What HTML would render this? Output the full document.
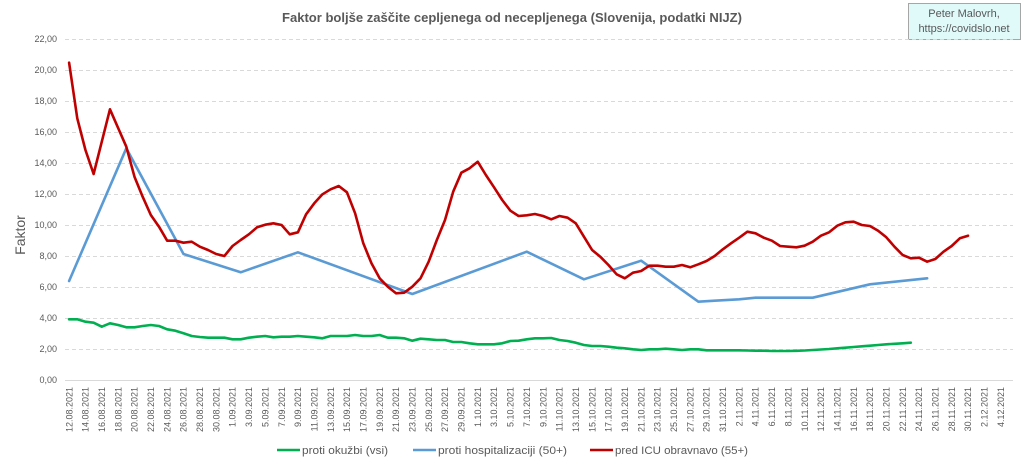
<!DOCTYPE html>
<html>
<head>
<meta charset="utf-8">
<style>
html,body{margin:0;padding:0;background:#fff;}
svg{display:block;}
text{font-family:"Liberation Sans",sans-serif;fill:#595959;}
</style>
</head>
<body>
<svg width="1024" height="466" viewBox="0 0 1024 466" xmlns="http://www.w3.org/2000/svg">
<rect width="1024" height="466" fill="#fff"/>
<!-- title -->
<text x="512" y="22" text-anchor="middle" font-size="13" font-weight="bold" textLength="460" lengthAdjust="spacingAndGlyphs">Faktor boljše zaščite cepljenega od necepljenega (Slovenija, podatki NIJZ)</text>
<!-- box -->
<rect x="908.5" y="3.5" width="112" height="36" fill="#E0F9F9" stroke="#A6A6A6" stroke-width="1"/>
<text x="964" y="17" text-anchor="middle" font-size="11" fill="#404040">Peter Malovrh,</text>
<text x="964" y="32" text-anchor="middle" font-size="11" fill="#404040">https://covidslo.net</text>
<!-- gridlines -->
<g stroke="#D9D9D9" stroke-width="1" stroke-dasharray="4,3">
<line x1="65" x2="1013" y1="39.5" y2="39.5"/>
<line x1="65" x2="1013" y1="70.5" y2="70.5"/>
<line x1="65" x2="1013" y1="101.5" y2="101.5"/>
<line x1="65" x2="1013" y1="132.5" y2="132.5"/>
<line x1="65" x2="1013" y1="163.5" y2="163.5"/>
<line x1="65" x2="1013" y1="194.5" y2="194.5"/>
<line x1="65" x2="1013" y1="225.5" y2="225.5"/>
<line x1="65" x2="1013" y1="256.5" y2="256.5"/>
<line x1="65" x2="1013" y1="287.5" y2="287.5"/>
<line x1="65" x2="1013" y1="318.5" y2="318.5"/>
<line x1="65" x2="1013" y1="349.5" y2="349.5"/>
</g>
<line x1="65" x2="1013" y1="380.5" y2="380.5" stroke="#D9D9D9" stroke-width="1"/>
<!-- y labels -->
<g font-size="9" text-anchor="end">
<text x="57" y="42">22,00</text>
<text x="57" y="73">20,00</text>
<text x="57" y="104">18,00</text>
<text x="57" y="135">16,00</text>
<text x="57" y="166">14,00</text>
<text x="57" y="197">12,00</text>
<text x="57" y="228">10,00</text>
<text x="57" y="259">8,00</text>
<text x="57" y="290">6,00</text>
<text x="57" y="321">4,00</text>
<text x="57" y="352">2,00</text>
<text x="57" y="383">0,00</text>
</g>
<text transform="translate(25,235) rotate(-90)" text-anchor="middle" font-size="14">Faktor</text>
<!-- x labels -->
<g font-size="9" text-anchor="end">
<text transform="translate(72.3,387) rotate(-90)">12.08.2021</text>
<text transform="translate(88.6,387) rotate(-90)">14.08.2021</text>
<text transform="translate(105.0,387) rotate(-90)">16.08.2021</text>
<text transform="translate(121.3,387) rotate(-90)">18.08.2021</text>
<text transform="translate(137.7,387) rotate(-90)">20.08.2021</text>
<text transform="translate(154.0,387) rotate(-90)">22.08.2021</text>
<text transform="translate(170.4,387) rotate(-90)">24.08.2021</text>
<text transform="translate(186.7,387) rotate(-90)">26.08.2021</text>
<text transform="translate(203.1,387) rotate(-90)">28.08.2021</text>
<text transform="translate(219.4,387) rotate(-90)">30.08.2021</text>
<text transform="translate(235.7,387) rotate(-90)">1.09.2021</text>
<text transform="translate(252.1,387) rotate(-90)">3.09.2021</text>
<text transform="translate(268.4,387) rotate(-90)">5.09.2021</text>
<text transform="translate(284.8,387) rotate(-90)">7.09.2021</text>
<text transform="translate(301.1,387) rotate(-90)">9.09.2021</text>
<text transform="translate(317.5,387) rotate(-90)">11.09.2021</text>
<text transform="translate(333.8,387) rotate(-90)">13.09.2021</text>
<text transform="translate(350.2,387) rotate(-90)">15.09.2021</text>
<text transform="translate(366.5,387) rotate(-90)">17.09.2021</text>
<text transform="translate(382.8,387) rotate(-90)">19.09.2021</text>
<text transform="translate(399.2,387) rotate(-90)">21.09.2021</text>
<text transform="translate(415.5,387) rotate(-90)">23.09.2021</text>
<text transform="translate(431.9,387) rotate(-90)">25.09.2021</text>
<text transform="translate(448.2,387) rotate(-90)">27.09.2021</text>
<text transform="translate(464.6,387) rotate(-90)">29.09.2021</text>
<text transform="translate(480.9,387) rotate(-90)">1.10.2021</text>
<text transform="translate(497.2,387) rotate(-90)">3.10.2021</text>
<text transform="translate(513.6,387) rotate(-90)">5.10.2021</text>
<text transform="translate(529.9,387) rotate(-90)">7.10.2021</text>
<text transform="translate(546.3,387) rotate(-90)">9.10.2021</text>
<text transform="translate(562.6,387) rotate(-90)">11.10.2021</text>
<text transform="translate(579.0,387) rotate(-90)">13.10.2021</text>
<text transform="translate(595.3,387) rotate(-90)">15.10.2021</text>
<text transform="translate(611.7,387) rotate(-90)">17.10.2021</text>
<text transform="translate(628.0,387) rotate(-90)">19.10.2021</text>
<text transform="translate(644.3,387) rotate(-90)">21.10.2021</text>
<text transform="translate(660.7,387) rotate(-90)">23.10.2021</text>
<text transform="translate(677.0,387) rotate(-90)">25.10.2021</text>
<text transform="translate(693.4,387) rotate(-90)">27.10.2021</text>
<text transform="translate(709.7,387) rotate(-90)">29.10.2021</text>
<text transform="translate(726.1,387) rotate(-90)">31.10.2021</text>
<text transform="translate(742.4,387) rotate(-90)">2.11.2021</text>
<text transform="translate(758.7,387) rotate(-90)">4.11.2021</text>
<text transform="translate(775.1,387) rotate(-90)">6.11.2021</text>
<text transform="translate(791.4,387) rotate(-90)">8.11.2021</text>
<text transform="translate(807.8,387) rotate(-90)">10.11.2021</text>
<text transform="translate(824.1,387) rotate(-90)">12.11.2021</text>
<text transform="translate(840.5,387) rotate(-90)">14.11.2021</text>
<text transform="translate(856.8,387) rotate(-90)">16.11.2021</text>
<text transform="translate(873.2,387) rotate(-90)">18.11.2021</text>
<text transform="translate(889.5,387) rotate(-90)">20.11.2021</text>
<text transform="translate(905.8,387) rotate(-90)">22.11.2021</text>
<text transform="translate(922.2,387) rotate(-90)">24.11.2021</text>
<text transform="translate(938.5,387) rotate(-90)">26.11.2021</text>
<text transform="translate(954.9,387) rotate(-90)">28.11.2021</text>
<text transform="translate(971.2,387) rotate(-90)">30.11.2021</text>
<text transform="translate(987.6,387) rotate(-90)">2.12.2021</text>
<text transform="translate(1003.9,387) rotate(-90)">4.12.2021</text>
</g>
<!-- series -->
<g transform="translate(69.1,0) scale(8.172,1)" fill="none" stroke-linejoin="round" stroke-linecap="round">
<polyline vector-effect="non-scaling-stroke" stroke="#00B050" stroke-width="2.6" points="0,319.3 1,319.3 2,321.7 3,322.7 4,326.7 5,323.3 6,325 7,327.3 8,327.3 9,326 10,325 11,326 12,329.3 13,330.7 14,333.3 15,336 16,337 17,337.7 18,337.7 19,337.7 20,339.3 21,339.3 22,337.7 23,336.7 24,336 25,337.3 26,336.7 27,336.7 28,336 29,336.7 30,337.3 31,338.3 32,336 33,336 34,336 35,335 36,336 37,336 38,335 39,337.7 40,337.7 41,338.3 42,340.7 43,338.7 44,339.3 45,340 46,340 47,342 48,342 49,343.3 50,344.3 51,344.3 52,344.3 53,343.3 54,341 55,340.7 56,339.3 57,338.3 58,338.3 59,338 60,340 61,341 62,342.7 63,345 64,346 65,346 66,346.7 67,347.7 68,348.3 69,349.3 70,350 71,349.3 72,349.3 73,348.7 74,349.3 75,350 76,349.3 77,349.3 78,350.3 79,350.3 80,350.3 81,350.3 82,350.3 83,350.5 84,350.7 85,350.7 86,351 87,351 88,351 89,350.8 90,350.5 91,350 92,349.5 93,349 94,348.3 95,347.7 96,347 97,346.3 98,345.7 99,345 100,344.3 101,343.8 102,343.3 103,342.7"/>
<polyline vector-effect="non-scaling-stroke" stroke="#5B9BD5" stroke-width="2.6" points="0,281 7,148.3 14,254 21,272.3 28,252.3 42,294 56,251.7 63,279.3 70,260.7 77,301.7 79,300.7 82,299.3 84,297.7 91,297.7 98,284.3 105,278.3"/>
<polyline vector-effect="non-scaling-stroke" stroke="#C00000" stroke-width="2.6" points="0,62.7 1,118.3 2,150 3,174 4,141.7 5,109.3 6,128 7,146.7 8,176.7 9,196.7 10,215 11,226.7 12,240.7 13,240.7 14,242.7 15,241.7 16,246.7 17,250 18,254 19,256 20,246 21,240 22,234.3 23,227.3 24,224.7 25,223.3 26,225 27,234.3 28,232.3 29,214.3 30,203.3 31,194.3 32,189.3 33,186 34,192.3 35,213.3 36,243.3 37,263.3 38,278.3 39,286.7 40,293.3 41,292.7 42,286.7 43,278.3 44,261.7 45,240 46,220 47,191.7 48,172.7 49,168.3 50,161.7 51,175 52,187.3 53,200 54,210.7 55,216 56,215.3 57,214 58,216 59,219.3 60,216 61,217.7 62,223.3 63,236.7 64,250 65,256.7 66,265 67,274.3 68,278.3 69,272.7 70,271 71,265.7 72,265.7 73,266.7 74,266.7 75,265 76,267.3 77,264.3 78,261 79,256 80,249.3 81,243.3 82,237.7 83,231.7 84,233.3 85,237.7 86,240.7 87,246 88,246.7 89,247.3 90,245.7 91,241.7 92,235.7 93,232.3 94,225.7 95,222.3 96,221.7 97,225 98,226 99,230.7 100,237.3 101,246.7 102,255 103,258.3 104,257.7 105,261.7 106,259 107,251.7 108,246 109,238.3 110,235.7"/>
</g>
<!-- legend -->
<line x1="277" x2="300" y1="450" y2="450" stroke="#00B050" stroke-width="2.6"/>
<text x="302" y="454" font-size="11" textLength="86" lengthAdjust="spacingAndGlyphs">proti okužbi (vsi)</text>
<line x1="413" x2="436" y1="450" y2="450" stroke="#5B9BD5" stroke-width="2.6"/>
<text x="438" y="454" font-size="11" textLength="129" lengthAdjust="spacingAndGlyphs">proti hospitalizaciji (50+)</text>
<line x1="590" x2="613" y1="450" y2="450" stroke="#C00000" stroke-width="2.6"/>
<text x="615" y="454" font-size="11" textLength="133" lengthAdjust="spacingAndGlyphs">pred ICU obravnavo (55+)</text>
</svg>
</body>
</html>
